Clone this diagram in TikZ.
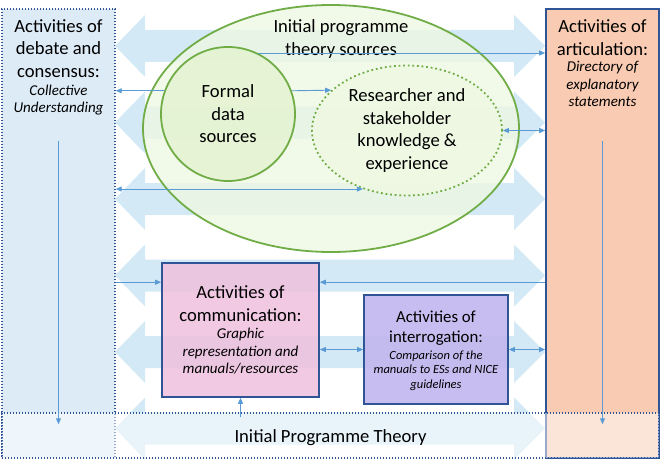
\documentclass[tikz,border=0pt]{standalone}
\usepackage{fontspec}
\setmainfont{Carlito}
\usetikzlibrary{arrows.meta,shapes.geometric}
\definecolor{linkblue}{RGB}{91,155,213}
\definecolor{boxblue}{RGB}{47,85,151}
\definecolor{debatefill}{RGB}{221,235,247}
\definecolor{articfill}{RGB}{248,203,178}
\definecolor{bandblue}{RGB}{212,233,246}
\definecolor{srcgreen}{RGB}{112,173,71}
\definecolor{srcfill}{RGB}{238,248,226}
\definecolor{formalfill}{RGB}{228,243,210}
\definecolor{commfill}{RGB}{238,192,222}
\definecolor{interfill}{RGB}{194,182,238}
\tikzset{
  head/.style={font=\fontsize{18.6}{22.5}\selectfont, align=center, inner sep=0pt},
  sub/.style={font=\fontsize{15}{17.5}\selectfont\itshape, align=center, inner sep=0pt},
  link/.style={draw=linkblue, line width=0.9pt},
  actbox/.style={rectangle, draw=boxblue, line width=1.6pt},
  dotbox/.style={rectangle, draw=boxblue, line width=1.4pt, dash pattern=on 1.4pt off 1.6pt},
}
\begin{document}
\begin{tikzpicture}[x=1pt, y=-1pt, >={Triangle[length=6pt,width=5pt]}]
\useasboundingbox (0,0) rectangle (664,460);
% side boxes
\node[dotbox, fill=debatefill, minimum width=113pt, minimum height=449pt] (debate) at (58.5,233.5) {};
\node[actbox, fill=articfill, minimum width=113pt, minimum height=449pt] (articulation) at (602.5,233.5) {};
% wide double arrows in the back
\foreach \c in {46,122.5,199,275.5,352,428.5}
  \fill[bandblue] (115,\c) -- (145,\c-31) -- (145,\c-16) -- (514,\c-16) -- (514,\c-31) -- (545,\c)
    -- (514,\c+31) -- (514,\c+16) -- (145,\c+16) -- (145,\c+31) -- cycle;
% programme theory sources
\node[ellipse, draw=srcgreen, line width=1.8pt, fill=srcfill, fill opacity=0.8, minimum width=376pt, minimum height=247pt] (sources) at (331,128.5) {};
\node[circle, draw=srcgreen, line width=1.8pt, fill=formalfill, fill opacity=0.85, text opacity=1, minimum size=134pt, head] (formal) at (228,114) {Formal\\data\\sources};
\node[ellipse, draw=srcgreen, line width=1.8pt, dash pattern=on 1.8pt off 2.8pt, fill=srcfill, fill opacity=0.85, text opacity=1, minimum width=190pt, minimum height=130pt, head] (researcher) at (407,130.5) {Researcher and\\stakeholder\\knowledge \&\\experience};
\node[head] (sourcestxt) at (341,39) {Initial programme\\theory sources};
% activity boxes
\node[actbox, fill=commfill, fill opacity=0.85, minimum width=157pt, minimum height=134pt] (comm) at (240.5,330) {};
\node[actbox, fill=interfill, fill opacity=0.9, minimum width=144pt, minimum height=109pt] (interrogation) at (436,349.5) {};
% programme theory band
\node[dotbox, fill=white, fill opacity=0.5, minimum width=657pt, minimum height=45pt] (theory) at (330.5,435.5) {};
\node[head] (theorytxt) at (theory.center) [yshift=-2.5pt] {Initial Programme Theory};
% texts
\node[head] (debatehd) at (58.5,48.5) {Activities of\\debate and\\consensus:};
\node[sub] (debatesub) at (58.5,100) {Collective\\Understanding};
\node[head] (artichd) at (602.5,37.5) {Activities of\\articulation:};
\node[sub] (articsub) at (602.5,84) {Directory of\\explanatory\\statements};
\node[head] (commhd) at (240.5,303.5) {Activities of\\communication:};
\node[sub] (commsub) at (240.5,351.5) {Graphic\\representation and\\manuals/resources};
\node[head, font=\fontsize{16.8}{20.5}\selectfont] (interhd) at (436,328) {Activities of\\interrogation:};
\node[sub, font=\fontsize{12.5}{14.5}\selectfont\itshape] (intersub) at (436,370.5) {Comparison of the\\manuals to ESs and NICE\\guidelines};
% connectors
\coordinate (commin) at ([yshift=-20pt]comm.north west);
\coordinate (bandin) at ([yshift=-5pt]theory.north);
\coordinate (bandend) at ([yshift=-12pt]theory.north);
\draw[link,->] (formal.160) -- (formal.160 -| debate.east);
\draw[link,->] (formal.20) -- (researcher.152);
\draw[link,->] (formal.64) -- (formal.64 -| articulation.west);
\draw[link,<->] (researcher.east) -- (researcher.east -| articulation.west);
\draw[link,<->] (researcher.233 -| debate.east) -- (researcher.233);
\draw[link,->] (commin -| debate.east) -- (commin);
\draw[link,->] (commin -| articulation.west) -- (commin -| comm.east);
\draw[link,<->] (interrogation.west -| comm.east) -- (interrogation.west);
\draw[link,<->] (interrogation.east) -- (interrogation.east -| articulation.west);
\draw[link,->] (bandin -| comm.south) -- (comm.south);
\draw[link,->] ([yshift=-26pt]debatesub.south) -- (bandend -| debatesub.south);
\draw[link,->] ([yshift=-34pt]articsub.south) -- (bandend -| articsub.south);
\end{tikzpicture}
\end{document}
